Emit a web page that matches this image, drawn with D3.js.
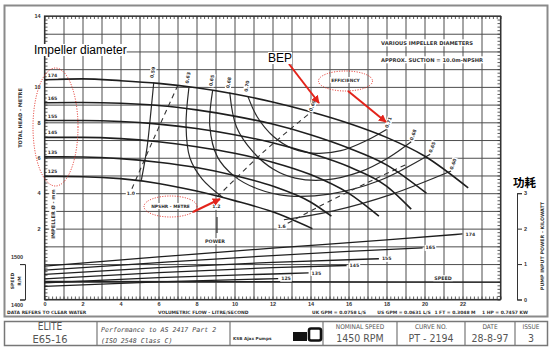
<!DOCTYPE html>
<html>
<head>
<meta charset="utf-8">
<script src="https://cdn.jsdelivr.net/npm/d3@7"></script>
<style>
  body { margin: 0; background: #fff; }
  svg { display: block; font-family: 'DejaVu Sans', sans-serif; }
  .grid line { stroke: #4d4d4d; stroke-width: 1; }
  .grid .domain, .minor .domain { display: none; }
  .minor line { stroke: #333; stroke-width: 0.8; }
  .tk text { font-size: 5.5px; font-weight: bold; fill: #333; }
  .tk line, .tk .domain { stroke: #333; }
  .small { font-size: 4.5px; font-weight: bold; fill: #333; }
</style>
</head>
<body>
<script>
/* global d3 */
(function () {
  'use strict'

  // Axis ticks (the 12 m label is hidden under the note in the original)
  var flowTicks = [0, 2, 4, 6, 8, 10, 12, 14, 16, 18, 20, 22]
  var headTicks = [2, 4, 6, 8, 10, 14]
  var powerTicks = [0, 1, 2, 3]
  var speedTicks = [1400, 1500]
  var diameters = ['174', '165', '155', '145', '135', '125']

  // Total head (m) against flow (l/s), one per impeller diameter
  var head174 = [[0, 10.4], [2, 10.45], [4, 10.35], [6, 10.2], [8, 9.95], [10, 9.6], [12, 9.15], [14, 8.6], [16, 7.95], [18, 7.15], [20, 6.1], [22.3, 4.3]]
  var head165 = [[0, 9.1], [2, 9.12], [4, 9.08], [6, 8.95], [8, 8.7], [10, 8.35], [12, 7.9], [14, 7.3], [16, 6.55], [18, 5.6], [20.1, 4.0]]
  var head155 = [[0, 8.1], [2, 8.1], [4, 8.05], [6, 7.9], [8, 7.65], [10, 7.3], [12, 6.85], [14, 6.25], [16, 5.5], [18, 4.4], [19.3, 3.1]]
  var head145 = [[0, 7.15], [2, 7.15], [4, 7.08], [6, 6.9], [8, 6.62], [10, 6.25], [12, 5.75], [14, 5.05], [16, 4.0], [17.6, 2.7]]
  var head135 = [[0, 6.05], [2, 6.04], [4, 5.95], [6, 5.75], [8, 5.45], [10, 5.0], [12, 4.4], [14, 3.5], [15.1, 2.7]]
  var head125 = [[0, 4.95], [2, 4.93], [4, 4.82], [6, 4.55], [8, 4.12], [10, 3.58], [12, 2.95], [14.1, 2.0]]

  // Efficiency contours (flow, head)
  var eff59 = [[5.75, 10.25], [5.6, 8.6], [5.4, 6.6], [5.1, 4.75]]
  var eff63 = [[7.6, 9.95], [7.45, 7.8], [7.65, 6.0], [8.3, 4.8], [9.4, 3.75]]
  var eff65 = [[8.85, 9.8], [8.7, 7.8], [9.1, 6.05], [10.0, 4.95], [11.2, 4.25], [12.8, 3.85], [15.0, 3.95], [17.6, 4.7], [20.3, 6.2]]
  var eff68 = [[9.75, 9.68], [10.1, 7.75], [11.0, 6.3], [12.05, 5.35], [13.2, 4.85], [14.8, 4.75], [16.6, 5.2], [18.1, 6.0], [19.3, 6.9]]
  var eff70 = [[10.7, 9.48], [11.2, 8.3], [12.05, 7.2], [13.1, 6.5], [14.3, 6.25], [15.6, 6.4], [16.9, 6.95], [18.0, 7.6]]
  var eff60 = [[12.6, 2.5], [15.2, 3.0], [18.3, 3.95], [21.4, 5.25]]

  // NPSH required (dashed)
  var npsh10 = [[4.6, 4.25], [5.8, 7.2], [7.0, 10.05]]
  var npsh12 = [[9.1, 3.8], [11.5, 6.3], [14.0, 8.55]]
  var npsh16 = [[12.8, 2.3], [15.0, 3.55], [17.3, 4.75], [19.0, 5.6]]

  // Pump input power (kW)
  var power174 = [[0, 0.94], [6, 1.2], [12, 1.45], [18, 1.68], [22, 1.85]]
  var power165 = [[0, 0.83], [6, 1.04], [12, 1.24], [16, 1.36], [19.9, 1.46]]
  var power155 = [[0, 0.71], [6, 0.9], [12, 1.05], [17.6, 1.15]]
  var power145 = [[0, 0.58], [6, 0.76], [12, 0.9], [15.9, 0.96]]
  var power135 = [[0, 0.47], [6, 0.62], [12, 0.72], [13.9, 0.75]]
  var power125 = [[0, 0.37], [6, 0.5], [12.3, 0.59]]

  // Speed (r/min)
  var speedRpm = [[0, 1451], [24, 1449]]

  var heads = [head174, head165, head155, head145, head135, head125]
  var powers = [power174, power165, power155, power145, power135, power125]

  var svg = d3.select('body').append('svg')
    .attr('width', 554)
    .attr('height', 351)

  var x = d3.scaleLinear().domain([0, 24]).range([44.5, 500.5])
  var y = d3.scaleLinear().domain([-2, 14]).range([299.5, 16])
  var kw = d3.scaleLinear().domain([0, 3]).range([y(-2), y(4)])
  var rpm = d3.scaleLinear().domain([1400, 1500]).range([y(-2), y(0)])

  var red = '#e3241b'

  // Outer frame
  svg.append('rect')
    .attr('x', 4.5).attr('y', 5.5).attr('width', 543).attr('height', 311)
    .attr('fill', 'none').attr('stroke', '#8a8a8a').attr('stroke-width', 2)

  // Grid
  svg.append('g').attr('class', 'grid')
    .attr('transform', 'translate(0,' + y(-2) + ')')
    .call(d3.axisBottom(x).tickValues(d3.range(0, 25)).tickSize(-(y(-2) - y(14))).tickFormat(''))
  svg.append('g').attr('class', 'grid')
    .attr('transform', 'translate(' + x(0) + ',0)')
    .call(d3.axisLeft(y).tickValues(d3.range(-2, 15)).tickSize(-(x(24) - x(0))).tickFormat(''))

  // Minor ticks along the plot edges
  var minorX = d3.range(0, 24.01, 0.2)
  var minorY = d3.range(-2, 14.01, 0.2)
  svg.append('g').attr('class', 'minor').attr('transform', 'translate(0,' + y(-2) + ')')
    .call(d3.axisBottom(x).tickValues(minorX).tickSize(-3).tickFormat(''))
  svg.append('g').attr('class', 'minor').attr('transform', 'translate(0,' + y(14) + ')')
    .call(d3.axisTop(x).tickValues(minorX).tickSize(-3).tickFormat(''))
  svg.append('g').attr('class', 'minor').attr('transform', 'translate(' + x(0) + ',0)')
    .call(d3.axisLeft(y).tickValues(minorY).tickSize(-3).tickFormat(''))
  svg.append('g').attr('class', 'minor').attr('transform', 'translate(' + x(24) + ',0)')
    .call(d3.axisRight(y).tickValues(minorY).tickSize(-3).tickFormat(''))

  svg.append('rect')
    .attr('x', x(0)).attr('y', y(14)).attr('width', x(24) - x(0)).attr('height', y(-2) - y(14))
    .attr('fill', 'none').attr('stroke', '#333').attr('stroke-width', 1.2)

  // Axes labels
  var leftAxis = svg.append('g').attr('class', 'tk')
    .attr('transform', 'translate(' + x(0) + ',0)')
    .call(d3.axisLeft(y).tickValues(headTicks).tickSize(0).tickPadding(4))
  leftAxis.select('.domain').remove()

  var bottomAxis = svg.append('g').attr('class', 'tk')
    .attr('transform', 'translate(0,' + y(-2) + ')')
    .call(d3.axisBottom(x).tickValues(flowTicks).tickSize(0).tickPadding(3))
  bottomAxis.select('.domain').remove()

  svg.append('g').attr('class', 'tk')
    .attr('transform', 'translate(517,0)')
    .call(d3.axisRight(kw).tickValues(powerTicks).tickSize(5).tickPadding(2).tickFormat(d3.format('d')))

  var spAxis = svg.append('g').attr('class', 'tk')
    .attr('transform', 'translate(25,0)')
    .call(d3.axisLeft(rpm).tickValues(speedTicks).tickSize(5).tickFormat(''))
  spAxis.append('text').attr('x', -8).attr('y', rpm(1500) - 5).attr('text-anchor', 'middle').text('1500')
  spAxis.append('text').attr('x', -8).attr('y', rpm(1400) + 7).attr('text-anchor', 'middle').text('1400')

  function rotText (tx, ty, str, size, rot) {
    return svg.append('text')
      .attr('transform', 'translate(' + tx + ',' + ty + ') rotate(' + rot + ')')
      .attr('text-anchor', 'middle').attr('dy', '0.35em')
      .attr('font-size', size).attr('font-weight', 'bold').attr('fill', '#333')
      .text(str)
  }

  rotText(20, 118, 'TOTAL HEAD - METRE', 5, -90)
  rotText(542, 246, 'PUMP INPUT POWER - KILOWATT', 4.8, -90)
  rotText(12, 281, 'SPEED', 4.5, -90)
  rotText(19, 281, 'R/M', 4.5, -90)

  svg.append('text').attr('class', 'small').attr('x', 7).attr('y', 314).attr('font-size', 3.8).text('DATA REFERS TO CLEAR WATER')
  svg.append('text').attr('class', 'small').attr('x', 158).attr('y', 314).text('VOLUMETRIC FLOW - LITRE/SECOND')
  var convs = [['UK GPM = 0.0758 L/S', 339], ['US GPM = 0.0631 L/S', 404], ['1 FT = 0.3048 M', 455], ['1 HP = 0.7457 KW', 505]]
  convs.forEach(function (c) {
    svg.append('text').attr('class', 'small').attr('x', c[1]).attr('y', 314)
      .attr('text-anchor', 'middle').attr('font-size', 3.5).text(c[0])
  })

  // Label with a white patch behind it
  function label (tx, ty, str, size, rot, anchor) {
    var g = svg.append('g')
      .attr('transform', 'translate(' + tx + ',' + ty + ')' + (rot ? ' rotate(' + rot + ')' : ''))
    var bg = g.append('rect').attr('fill', '#fff')
    var t = g.append('text')
      .attr('text-anchor', anchor || 'middle').attr('dy', '0.35em')
      .attr('font-size', size).attr('font-weight', 'bold').attr('fill', '#333')
      .text(str)
    var b = t.node().getBBox()
    bg.attr('x', b.x - 1).attr('y', b.y - 0.5).attr('width', b.width + 2).attr('height', b.height + 1)
    return g
  }

  label(427, 43, 'VARIOUS IMPELLER DIAMETERS', 5.2)
  label(432, 60, 'APPROX. SUCTION = 10.0m-NPSHR', 5.2)
  label(53, 214, 'IMPELLER \u00d8 - mm', 5, -90)

  var line = d3.line()
    .x(function (d) { return x(d[0]) })
    .y(function (d) { return y(d[1]) })
    .curve(d3.curveMonotoneX)
  var contour = d3.line()
    .x(function (d) { return x(d[0]) })
    .y(function (d) { return y(d[1]) })
    .curve(d3.curveCatmullRom)
  var powerLine = d3.line()
    .x(function (d) { return x(d[0]) })
    .y(function (d) { return kw(d[1]) })
    .curve(d3.curveMonotoneX)

  // Efficiency contours
  var effs = [eff59, eff63, eff65, eff68, eff70, eff60]
  svg.append('g').selectAll('path')
    .data(effs)
    .enter().append('path')
      .attr('d', contour)
      .attr('fill', 'none')
      .attr('stroke', '#2a2a2a')
      .attr('stroke-width', 1.2)

  // NPSH dashed lines
  svg.append('g').selectAll('path')
    .data([npsh10, npsh12, npsh16])
    .enter().append('path')
      .attr('d', contour)
      .attr('fill', 'none')
      .attr('stroke', '#333')
      .attr('stroke-width', 1.1)
      .attr('stroke-dasharray', '5,4')

  // Head curves
  svg.append('g').selectAll('path')
    .data(heads)
    .enter().append('path')
      .attr('d', line)
      .attr('fill', 'none')
      .attr('stroke', '#1e1e1e')
      .attr('stroke-width', 1.6)

  // Power curves
  svg.append('g').selectAll('path')
    .data(powers)
    .enter().append('path')
      .attr('d', powerLine)
      .attr('fill', 'none')
      .attr('stroke', '#1e1e1e')
      .attr('stroke-width', 1.3)

  // Speed line
  svg.append('path')
    .datum(speedRpm)
    .attr('d', d3.line()
      .x(function (d) { return x(d[0]) })
      .y(function (d) { return rpm(d[1]) }))
    .attr('fill', 'none')
    .attr('stroke', '#222')
    .attr('stroke-width', 1.4)

  // Diameter labels on head and power curves
  heads.forEach(function (h, i) {
    label(x(0) + 8, y(h[0][1]) - 4.5, diameters[i], 4.6)
  })
  powers.forEach(function (p, i) {
    var last = p[p.length - 1]
    label(x(last[0]) + 3, kw(last[1]), diameters[i], 4.6, 0, 'start')
  })

  // Efficiency labels
  var effLabels = [
    ['0.59', eff59[0], -80], ['0.63', eff63[0], -80], ['0.65', eff65[0], -80],
    ['0.68', eff68[0], -80], ['0.70', eff70[0], -80],
    ['0.71', eff70[eff70.length - 1], -70], ['0.68', eff68[eff68.length - 1], -70],
    ['0.65', eff65[eff65.length - 1], -70], ['0.60', eff60[eff60.length - 1], -70]
  ]
  effLabels.forEach(function (e, i) {
    var dy = i < 5 ? -10 : -7
    label(x(e[1][0]) + (i < 5 ? -1 : 2), y(e[1][1]) + dy, e[0], 4.6, e[2])
  })
  label(x(npsh12[2][0]) + 2, y(npsh12[2][1]) - 7, '0.69', 4.6, -70)

  // NPSH labels
  label(x(npsh10[0][0]) - 1, y(npsh10[0][1]) + 5, '1.0', 4.6)
  label(x(npsh12[0][0]) - 1, y(npsh12[0][1]) + 10, '1.2', 4.6)
  label(x(npsh16[0][0]) - 6, y(npsh16[0][1]) + 3, '1.6', 4.6)

  svg.append('line')
    .attr('x1', 217).attr('x2', 217).attr('y1', 217).attr('y2', 233)
    .attr('stroke', '#333').attr('stroke-width', 1.2)
  label(215, 241, 'POWER', 4.8)
  label(443, 278, 'SPEED', 4.8)

  // Title block
  var tb = svg.append('g')
  tb.append('rect')
    .attr('x', 4.5).attr('y', 321.5).attr('width', 543).attr('height', 24)
    .attr('fill', 'none').attr('stroke', '#777').attr('stroke-width', 1.5)
  var cells = [97, 230, 323, 397, 465, 515]
  cells.forEach(function (cx) {
    tb.append('line').attr('x1', cx).attr('x2', cx).attr('y1', 321.5).attr('y2', 345.5)
      .attr('stroke', '#777').attr('stroke-width', 1.2)
  })
  var tbText = [
    ['ELITE', 50, 330, 10], ['E65-16', 50, 342.5, 11],
    ['NOMINAL SPEED', 360, 328.5, 6.5], ['1450 RPM', 360, 341.5, 10.5],
    ['CURVE NO.', 431, 328.5, 6.5], ['PT - 2194', 431, 341.5, 10.5],
    ['DATE', 490, 328.5, 6.5], ['28-8-97', 490, 341.5, 10.5],
    ['ISSUE', 531, 328.5, 6.5], ['3', 531, 341.5, 10.5]
  ]
  tbText.forEach(function (t) {
    tb.append('text').attr('x', t[1]).attr('y', t[2]).attr('text-anchor', 'middle')
      .attr('font-size', t[3]).attr('fill', '#555')
      .attr('font-family', 'DejaVu Sans Condensed, DejaVu Sans, sans-serif')
      .text(t[0])
  })
  tb.append('text').attr('x', 101).attr('y', 332).attr('font-size', 6.6).attr('fill', '#444')
    .attr('font-style', 'italic').attr('font-family', 'DejaVu Sans Mono, monospace')
    .text('Performance to AS 2417 Part 2')
  tb.append('text').attr('x', 101).attr('y', 342.5).attr('font-size', 6.6).attr('fill', '#444')
    .attr('font-style', 'italic').attr('font-family', 'DejaVu Sans Mono, monospace')
    .text('(ISO 2548 Class C)')
  tb.append('text').attr('x', 233).attr('y', 339.5).attr('font-size', 4.2).attr('font-weight', 'bold')
    .attr('fill', '#333').text('KSB Ajax Pumps')
  tb.append('rect').attr('x', 293).attr('y', 332).attr('width', 14).attr('height', 9).attr('fill', '#111')
  tb.append('rect').attr('x', 309).attr('y', 328.5).attr('width', 12).attr('height', 12).attr('rx', 2)
    .attr('fill', 'none').attr('stroke', '#111').attr('stroke-width', 2.6)

  // Red annotations
  var defs = svg.append('defs')
  defs.append('marker')
    .attr('id', 'arr').attr('viewBox', '0 0 10 10').attr('refX', 9).attr('refY', 5)
    .attr('markerWidth', 4).attr('markerHeight', 4).attr('orient', 'auto')
    .append('path').attr('d', 'M0,0L10,5L0,10z').attr('fill', red)

  function ellipse (cx, cy, rx, ry) {
    svg.append('ellipse')
      .attr('cx', cx).attr('cy', cy).attr('rx', rx).attr('ry', ry)
      .attr('fill', 'none').attr('stroke', red).attr('stroke-width', 1)
      .attr('stroke-dasharray', '1,1.5')
  }
  function arrow (x1, y1, x2, y2) {
    svg.append('line')
      .attr('x1', x1).attr('y1', y1).attr('x2', x2).attr('y2', y2)
      .attr('stroke', red).attr('stroke-width', 2)
      .attr('marker-end', 'url(#arr)')
  }

  label(345.5, 80, 'EFFICIENCY', 4.4)
  label(170.5, 206, 'NPSHR - METRE', 4.4)
  ellipse(55.5, 127, 22.5, 59)
  ellipse(345.5, 81, 27, 10)
  ellipse(170.5, 206.5, 26.5, 10.5)
  arrow(289, 64, 319, 103)
  arrow(348, 91, 386, 122)
  arrow(193, 212, 220, 199)

  function note (tx, ty, str, size, fam, weight) {
    var g = svg.append('g')
    var bg = g.append('rect').attr('fill', '#fff')
    var t = g.append('text').attr('x', tx).attr('y', ty)
      .attr('font-size', size).attr('font-family', fam).attr('font-weight', weight || 'normal')
      .attr('fill', '#000').text(str)
    var b = t.node().getBBox()
    bg.attr('x', b.x).attr('y', b.y + 1).attr('width', b.width).attr('height', b.height - 2)
  }
  note(34, 54, 'Impeller diameter', 12, 'Liberation Sans, Arial, sans-serif')
  note(268, 62, 'BEP', 12, 'Liberation Sans, Arial, sans-serif')
  note(513, 187, '功耗', 11.5, 'Noto Sans CJK SC, sans-serif', 'bold')
}())
</script>
</body>
</html>
